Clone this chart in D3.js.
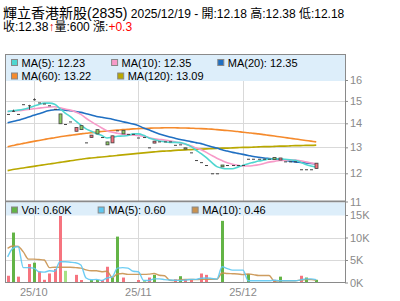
<!DOCTYPE html>
<meta charset="utf-8">
<style>
  body { margin:0; background:#fff; }
  svg { display:block; font-family:"Liberation Sans", Arial, "Noto Sans CJK TC", sans-serif; }
  .axis text { fill:#8a8a8a; font-size:11px; }
  .axis line, .axis path { stroke:#8a8a8a; }
  .lg text { font-size:11px; fill:#000; }
</style>
<svg width="400" height="301"></svg>
<script src="https://cdn.jsdelivr.net/npm/d3@7/dist/d3.min.js"></script>
<script>
// quote header
var stockName = "輝立香港新股(2835)", quoteDate = "2025/12/19";
var quoteNames = ["開", "高", "低"], quoteVals = ["12.18", "12.38", "12.18"];
var lastClose = "12.38", lastVol = "600", lastChg = "+0.3";

// 60 trading days, 2025/09/24 .. 2025/12/19
var open = [14.41,14.55,14.41,14.85,14.8,15.08,14.93,14.88,14.8,14.64,
  14.41,13.97,14.08,13.66,13.9,13.2,13.4,13.73,13.42,13.22,
  13.18,13.7,13.7,13.55,13.55,13.4,13.42,13.0,13.17,13.24,
  13.24,13.24,13.1,13.12,12.98,12.8,12.5,12.42,12.31,12.0,
  12.0,12.31,12.31,12.31,12.31,12.31,12.55,12.55,12.55,12.55,
  12.55,12.6,12.5,12.45,12.45,12.45,12.15,12.15,12.15,12.18];
var close = [14.41,14.55,14.41,14.85,14.8,15.08,14.93,14.88,14.8,14.64,
  13.98,13.97,14.08,13.82,13.73,13.2,13.5,13.55,13.42,13.1,
  13.47,13.7,13.55,13.55,13.55,13.4,13.42,13.0,13.25,13.24,
  13.24,13.24,13.1,13.12,12.93,12.8,12.5,12.42,12.31,12.0,
  12.0,12.24,12.31,12.31,12.31,12.31,12.55,12.55,12.55,12.55,
  12.55,12.52,12.58,12.45,12.45,12.45,12.15,12.15,12.15,12.38];
var high = [14.41,14.6,14.41,14.85,14.82,15.12,14.93,14.88,14.8,14.64,
  14.41,13.97,14.08,13.82,13.9,13.2,13.5,13.73,13.42,13.22,
  13.47,13.7,13.7,13.55,13.55,13.4,13.42,13.0,13.25,13.24,
  13.24,13.24,13.1,13.12,12.98,12.8,12.5,12.42,12.31,12.0,
  12.0,12.31,12.31,12.31,12.31,12.31,12.55,12.55,12.55,12.55,
  12.55,12.6,12.58,12.45,12.45,12.45,12.15,12.15,12.15,12.38];
var low = [14.41,14.5,14.41,14.85,14.6,15.02,14.93,14.88,14.8,14.64,
  13.98,13.97,14.08,13.66,13.73,13.2,13.4,13.55,13.42,13.1,
  13.18,13.7,13.55,13.55,13.55,13.4,13.42,13.0,13.17,13.24,
  13.24,13.24,13.1,13.12,12.93,12.8,12.5,12.42,12.31,12.0,
  12.0,12.24,12.31,12.31,12.31,12.31,12.55,12.55,12.55,12.55,
  12.55,12.52,12.5,12.45,12.45,12.45,12.15,12.15,12.15,12.18];

var ma5 = [14.52,14.55,14.58,14.62,14.68,14.76,14.84,14.9,14.9,14.85,
  14.65,14.45,14.29,14.1,13.92,13.76,13.66,13.56,13.48,13.38,
  13.41,13.45,13.46,13.48,13.55,13.55,13.49,13.38,13.32,13.26,
  13.23,13.2,13.2,13.19,13.13,13.04,12.89,12.75,12.59,12.41,
  12.25,12.19,12.17,12.17,12.23,12.3,12.36,12.41,12.46,12.5,
  12.54,12.54,12.55,12.53,12.51,12.49,12.42,12.33,12.27,12.23];
var ma10 = [14.52,14.53,14.55,14.58,14.61,14.64,14.67,14.7,14.72,14.73,
  14.69,14.63,14.58,14.5,14.39,14.22,14.07,13.93,13.8,13.68,
  13.62,13.58,13.54,13.52,13.5,13.48,13.45,13.4,13.35,13.32,
  13.3,13.26,13.22,13.18,13.12,13.06,12.98,12.9,12.8,12.68,
  12.57,12.48,12.4,12.34,12.3,12.27,12.27,12.29,12.32,12.37,
  12.42,12.45,12.48,12.49,12.5,12.5,12.47,12.43,12.39,12.35];
var ma20 = [14.02,14.08,14.13,14.2,14.27,14.35,14.42,14.5,14.56,14.6,
  14.6,14.58,14.55,14.52,14.48,14.42,14.36,14.3,14.26,14.22,
  14.18,14.12,14.07,14.02,13.97,13.9,13.8,13.72,13.63,13.55,
  13.48,13.42,13.37,13.32,13.28,13.23,13.19,13.15,13.08,13.02,
  12.97,12.9,12.85,12.8,12.76,12.72,12.68,12.64,12.61,12.58,
  12.56,12.54,12.52,12.49,12.46,12.43,12.41,12.39,12.37,12.35];
var ma60 = [13.02,13.07,13.12,13.16,13.2,13.24,13.28,13.32,13.36,13.39,
  13.43,13.46,13.49,13.52,13.55,13.58,13.6,13.63,13.65,13.67,
  13.69,13.71,13.73,13.74,13.76,13.77,13.78,13.79,13.8,13.8,
  13.81,13.81,13.81,13.8,13.8,13.79,13.78,13.77,13.76,13.75,
  13.73,13.71,13.69,13.67,13.65,13.62,13.6,13.57,13.55,13.52,
  13.49,13.46,13.43,13.4,13.37,13.34,13.31,13.28,13.25,13.22];
var ma120 = [12.1,12.14,12.17,12.2,12.23,12.26,12.29,12.32,12.35,12.38,
  12.41,12.44,12.47,12.5,12.53,12.56,12.58,12.6,12.62,12.64,
  12.66,12.68,12.7,12.72,12.74,12.76,12.78,12.8,12.82,12.84,
  12.85,12.86,12.88,12.89,12.9,12.91,12.92,12.93,12.94,12.95,
  12.96,12.97,12.97,12.98,12.99,13.0,13.0,13.01,13.02,13.03,
  13.03,13.04,13.05,13.05,13.06,13.07,13.07,13.08,13.08,13.09];

// volume in thousands, direction vs previous close (1 up, -1 down, 0 flat)
var vol = [1.5,11.1,1.3,0,4.1,4.4,2.4,0.6,2.0,3.0,
  14.8,2.6,0,1.7,0.55,0,0.55,0.55,0.55,3.5,
  1.1,10.2,1.1,0,0,0.55,0.5,1.1,1.7,0,
  0,0,0.7,1.4,0.7,0.7,0,2.0,1.7,0,
  0,13.7,0,0,0,0,1.9,0,0,0,
  0,0.6,1.3,0,0,0,1.5,1.1,0,0.6];
var volDir = [-1,1,-1,0,-1,1,-1,-1,-1,-1,
  -1,0,0,-1,-1,0,1,1,-1,-1,
  1,1,-1,0,0,-1,0,-1,1,0,
  0,0,-1,1,-1,-1,0,-1,-1,0,
  0,1,0,0,0,0,1,0,0,0,
  0,-1,1,0,0,0,-1,1,0,1];
var volMa5 = [5.7,7.6,8.0,3.3,3.3,3.2,2.4,2.3,2.6,2.5,
  4.6,4.6,4.5,4.4,3.9,1.0,0.6,0.7,0.45,1.0,
  1.25,3.2,3.3,3.2,2.5,2.4,0.45,0.45,0.8,0.8,
  0.65,0.55,0.5,0.45,0.55,0.7,0.7,0.95,1.0,0.9,
  0.75,3.5,3.1,2.75,2.75,2.75,0.4,0.4,0.4,0.4,
  0.4,0.5,0.4,0.4,0.4,0.4,0.55,0.8,0.8,0.6];
var volMa10 = [7.6,8.1,8.0,6.8,5.2,5.2,5.1,5.0,3.3,3.4,
  3.4,3.4,3.4,3.3,3.2,2.8,2.6,2.6,2.4,2.5,
  1.1,1.9,2.0,1.8,1.8,1.8,1.8,1.85,2.0,1.6,
  1.5,0.5,0.46,0.6,0.67,0.68,0.63,0.72,0.72,0.72,
  0.72,2.1,2.0,1.95,1.9,1.75,1.9,1.75,1.55,1.55,
  1.55,0.25,0.38,0.38,0.38,0.38,0.53,0.64,0.64,0.46];

var monthIdx = [5, 25, 45], monthLabels = ["25/10", "25/11", "25/12"];
var priceTicks = [11, 12, 13, 14, 15, 16], volTicks = [0, 5, 10, 15];
var maNames = ["MA(5)", "MA(10)", "MA(20)", "MA(60)", "MA(120)"];
var volNames = ["Vol", "MA(5)", "MA(10)"];

var svg = d3.select("svg");
var L = 5, R = 345, pTop = 54, pBot = 201.5, vBot = 282.5;

var x = d3.scaleBand().domain(d3.range(65)).range([L, R]);
function cx(i) { return x(i) + x.bandwidth() / 2; }
var y = d3.scaleLog().domain([11, 16]).range([pBot, 80]);
var yv = d3.scaleLinear().domain([0, 15]).range([vBot, 215]);

var maColors = ["#4fd6d0", "#f79ac8", "#1f6fc2", "#f58a2c", "#b9a800"];
var volColors = {"1": "#63b446", "-1": "#f6747f", "0": "#a6e284"};
var volMaColors = ["#63b446", "#5ec8f2", "#c9924f"];

svg.append("clipPath").attr("id", "pc")
  .append("rect").attr("x", L).attr("y", pTop).attr("width", R - L).attr("height", pBot - pTop);

// grid
var grid = svg.append("g").attr("stroke", "#d9d9d9").attr("stroke-width", 1);
grid.selectAll(".hp").data([12, 13, 14, 15]).enter().append("line")
  .attr("x1", L).attr("x2", R)
  .attr("y1", function(d) { return Math.round(y(d)) + 0.5; })
  .attr("y2", function(d) { return Math.round(y(d)) + 0.5; });
grid.selectAll(".hv").data([5, 10]).enter().append("line")
  .attr("x1", L).attr("x2", R)
  .attr("y1", function(d) { return Math.round(yv(d)) + 0.5; })
  .attr("y2", function(d) { return Math.round(yv(d)) + 0.5; });
monthIdx.forEach(function(i) {
  var xx = Math.round(cx(i)) + 0.5;
  grid.append("line").attr("x1", xx).attr("x2", xx).attr("y1", 81).attr("y2", pBot);
  grid.append("line").attr("x1", xx).attr("x2", xx).attr("y1", 215).attr("y2", vBot);
});

// price MA lines
var idx = d3.range(open.length);
var pg = svg.append("g").attr("clip-path", "url(#pc)");
[ma120, ma60, ma20, ma10, ma5].forEach(function(s, k) {
  var line = d3.line().x(function(i) { return cx(i); }).y(function(i) { return y(s[i]); })
    .curve(d3.curveMonotoneX);
  pg.append("path").attr("d", line(idx)).attr("fill", "none")
    .attr("stroke", maColors[4 - k]).attr("stroke-width", 1.6);
});

// candles
var cg = pg.selectAll(".c").data(idx).enter().append("g");
cg.append("line")
  .attr("x1", function(i) { return Math.round(cx(i)) + 0.5; })
  .attr("x2", function(i) { return Math.round(cx(i)) + 0.5; })
  .attr("y1", function(i) { return y(high[i]); })
  .attr("y2", function(i) { return y(low[i]); })
  .attr("stroke", "#444");
cg.append("rect")
  .attr("x", function(i) { return Math.round(cx(i)) - 1; })
  .attr("width", 3)
  .attr("y", function(i) { return y(Math.max(open[i], close[i])); })
  .attr("height", function(i) { return Math.max(1, y(Math.min(open[i], close[i])) - y(Math.max(open[i], close[i]))); })
  .attr("fill", function(i) { return close[i] > open[i] ? "#f4707c" : close[i] < open[i] ? "#8ccd62" : "#444"; })
  .attr("stroke", function(i) { return close[i] == open[i] ? "none" : "#444"; })
  .attr("stroke-width", 0.8);

// volume
var vg = svg.append("g");
vg.selectAll("rect").data(idx.filter(function(i) { return vol[i] > 0; })).enter().append("rect")
  .attr("x", function(i) { return Math.round(cx(i)) - 1; })
  .attr("width", 3)
  .attr("y", function(i) { return yv(vol[i]); })
  .attr("height", function(i) { return vBot - yv(vol[i]); })
  .attr("fill", function(i) { return volColors[volDir[i]]; });
[volMa10, volMa5].forEach(function(s, k) {
  var line = d3.line().x(function(i) { return cx(i); }).y(function(i) { return yv(s[i]); })
    .curve(d3.curveMonotoneX);
  vg.append("path").attr("d", line(idx)).attr("fill", "none")
    .attr("stroke", volMaColors[2 - k]).attr("stroke-width", 1.4).attr("opacity", 0.9);
});

// frame
var fr = svg.append("g").attr("stroke", "#8a8a8a").attr("fill", "none");
fr.append("rect").attr("x", L + 0.5).attr("y", pTop + 0.5).attr("width", R - L).attr("height", vBot - pTop - 0.5);
fr.append("line").attr("x1", L).attr("x2", R).attr("y1", 201.5).attr("y2", 201.5).attr("stroke-width", 2);

// legends
function legend(names, vals, colors, x0, y0, bh) {
  var g = svg.append("g").attr("class", "lg");
  g.append("rect").attr("x", L + 1).attr("y", y0).attr("width", R - L - 1).attr("height", bh).attr("fill", "#ddeefa");
  var px = x0, py = y0 + 8;
  names.forEach(function(n, k) {
    var t = g.append("text").attr("x", px + 10.5).attr("y", py).attr("dy", "0.35em").text(n + ": " + vals[k]);
    var w = t.node().getComputedTextLength();
    if (px + 10.5 + w > R && px > x0) { px = x0; py += 13.5; t.attr("x", px + 10.5).attr("y", py); }
    g.append("rect").attr("x", px + 0.5).attr("y", py - 3.5).attr("width", 6).attr("height", 6)
      .attr("fill", colors[k]).attr("stroke", "#888");
    px += 10.5 + w + 26;
  });
}
legend(maNames, [ma5, ma10, ma20, ma60, ma120].map(function(s) { return d3.format(".2f")(s[s.length - 1]); }),
  maColors, 11, 55, 26);
legend(volNames, [d3.format(".2f")(vol[vol.length - 1]) + "K", d3.format(".2f")(volMa5[59]), d3.format(".2f")(volMa10[59])],
  volMaColors, 11, 202.5, 13);

// axes
svg.append("g").attr("class", "axis").attr("transform", "translate(" + R + ",0)")
  .call(d3.axisRight(y).tickValues(priceTicks).tickFormat(d3.format("d")).tickSize(3).tickSizeOuter(0).tickPadding(2))
  .call(function(g) { g.select(".domain").remove(); });
svg.append("g").attr("class", "axis").attr("transform", "translate(" + R + ",0)")
  .call(d3.axisRight(yv).tickValues(volTicks).tickFormat(function(d) { return d + "K"; }).tickSize(3).tickSizeOuter(0).tickPadding(2))
  .call(function(g) { g.select(".domain").remove(); });
svg.append("g").attr("class", "axis").attr("transform", "translate(0," + vBot + ")")
  .call(d3.axisBottom(x).tickValues(monthIdx).tickFormat(function(d, k) { return monthLabels[k]; }).tickSize(0).tickPadding(6))
  .call(function(g) { g.select(".domain").remove(); });

// header
var h1 = svg.append("text").attr("x", 3).attr("y", 17.5).attr("font-size", 12);
h1.append("tspan").attr("font-size", 14).text(stockName);
h1.append("tspan").text(" " + quoteDate + " - " + quoteNames.map(function(n, k) { return n + ":" + quoteVals[k]; }).join(" "));
var h2 = svg.append("text").attr("x", 3).attr("y", 30.5).attr("font-size", 12);
h2.append("tspan").text("收:" + lastClose);
h2.append("tspan").attr("fill", "#e00").attr("font-weight", "bold").text("↑");
h2.append("tspan").text("量:" + lastVol + " 漲:");
h2.append("tspan").attr("fill", "#f00").text(lastChg);
</script>
